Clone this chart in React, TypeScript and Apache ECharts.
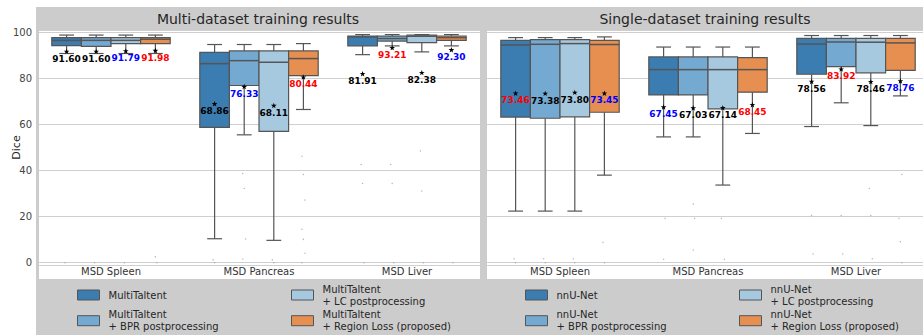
import React, { useEffect, useRef } from 'react';
import * as echarts from 'echarts';

// ---------- data ----------
const categories = ['MSD Spleen', 'MSD Pancreas', 'MSD Liver'];

const multiNames = [
  'MultiTaltent',
  'MultiTaltent\n+ BPR postprocessing',
  'MultiTaltent\n+ LC postprocessing',
  'MultiTaltent\n+ Region Loss (proposed)',
];
const singleNames = [
  'nnU-Net',
  'nnU-Net\n+ BPR postprocessing',
  'nnU-Net\n+ LC postprocessing',
  'nnU-Net\n+ Region Loss (proposed)',
];
const panelTitles = ['Multi-dataset training results', 'Single-dataset training results'];

const boxColors = ['#3b7cb1', '#74aad1', '#a6c9e0', '#e68f50'];

// [low whisker, Q1, median, Q3, high whisker] per category (Spleen, Pancreas, Liver)
const multiBaseStats = [[90.8, 94.2, 96.5, 97.7, 98.8], [10.4, 58.7, 86.4, 91.3, 94.7], [90.3, 94.1, 98.0, 98.3, 99.0]];
const multiBprStats = [[90.8, 93.9, 96.5, 97.7, 98.8], [55.5, 76.9, 87.7, 91.9, 94.7], [94.1, 96.2, 97.3, 98.3, 99.0]];
const multiLcStats = [[90.8, 95.1, 96.5, 97.7, 98.8], [9.7, 57.0, 87.0, 91.9, 94.7], [91.5, 95.5, 98.3, 98.8, 99.0]];
const multiRegionStats = [[90.8, 95.1, 97.0, 97.7, 98.8], [66.5, 81.2, 88.6, 91.9, 95.1], [94.1, 96.5, 97.7, 98.4, 99.0]];

const singleBaseStats = [[22.4, 63.2, 94.5, 96.5, 97.7], [54.6, 72.8, 83.8, 89.3, 93.6], [59.1, 81.8, 94.9, 97.4, 98.6]];
const singleBprStats = [[22.4, 62.7, 94.8, 96.8, 97.7], [54.6, 72.8, 83.8, 89.3, 93.6], [69.4, 85.1, 95.8, 97.4, 98.6]];
const singleLcStats = [[22.4, 63.3, 95.1, 96.8, 97.7], [33.7, 66.8, 83.8, 89.3, 93.6], [59.5, 82.4, 95.7, 97.4, 98.6]];
const singleRegionStats = [[38.0, 65.3, 94.7, 96.5, 98.0], [56.1, 74.0, 83.8, 89.0, 93.6], [72.4, 83.5, 95.4, 97.4, 98.6]];

// mean Dice per category
const multiBaseMeans = [91.6, 68.86, 81.91];
const multiBprMeans = [91.6, 76.33, 93.21];
const multiLcMeans = [91.79, 68.11, 82.38];
const multiRegionMeans = [91.98, 80.44, 92.3];

const singleBaseMeans = [73.46, 67.45, 78.56];
const singleBprMeans = [73.38, 67.03, 83.92];
const singleLcMeans = [73.8, 67.14, 78.46];
const singleRegionMeans = [73.45, 68.45, 78.76];

// label highlight: k = black, b = blue (second best), r = red (best)
const multiLabelKinds = [
  ['k', 'k', 'k'],
  ['k', 'b', 'r'],
  ['b', 'k', 'k'],
  ['r', 'r', 'b'],
];
const singleLabelKinds = [
  ['r', 'b', 'k'],
  ['k', 'k', 'r'],
  ['k', 'k', 'k'],
  ['b', 'r', 'b'],
];

// visible outlier points per method, per category
const multiOutliers = [
  [[51.8, 14.9, 8.4, 0], [1.2, 0], [42.6, 34.4, 0]],
  [[51.8, 14.9, 8.4, 0], [38.7, 32.2, 10.3, 1.6], [42.6, 34.4, 0]],
  [[51.8, 14.9, 8.4, 0], [1.2, 0], [48.5, 31.1, 0]],
  [[32.7, 2.6, 0], [46.2, 38.3, 27.2, 14.5, 10.1, 4.1, 0], [34.0, 8.4, 0]],
];
const singleOutliers = [
  [[1.7, 0], [45.5, 36.6, 19.2, 9.8, 1.5], [31.5, 20.5, 3.8]],
  [[1.7, 0], [36.6, 25.4, 19.2, 9.8, 5.5], [31.5, 20.5, 3.8]],
  [[1.7, 0], [19.2, 9.8, 1.5], [32.2, 20.5, 1.7]],
  [[8.8, 0], [50.6, 31.5, 14.6, 9.8], [55.6, 50.3, 38.3, 19.2, 9.1, 0]],
];

// ---------- helpers ----------
const FONT = 'DejaVu Sans';
const LINE = '#555555';
const labelColorMap: Record<string, string> = { k: '#000000', b: '#0000ff', r: '#ff0000' };

function starPoints(cx: number, cy: number, ro: number, ri: number) {
  const pts: number[][] = [];
  for (let i = 0; i < 10; i++) {
    const r = i % 2 === 0 ? ro : ri;
    const a = -Math.PI / 2 + (i * Math.PI) / 5;
    pts.push([cx + r * Math.cos(a), cy + r * Math.sin(a)]);
  }
  return pts;
}

function boxSeries(name: string, stats: number[][], means: number[], kinds: string[], m: number, g: number) {
  return {
    type: 'custom',
    name,
    xAxisIndex: g,
    yAxisIndex: g,
    silent: true,
    z: 2,
    itemStyle: { color: boxColors[m] },
    encode: { x: 0, y: [1, 2, 3, 4, 5, 6] },
    data: stats.map((s, i) => [i, ...s, means[i]]),
    renderItem: (params: any, api: any) => {
      const cat = api.value(0);
      const band = api.size([1, 0])[0];
      const w = (band * 0.8) / 4;
      const cx = api.coord([cat, 0])[0] + (m - 1.5) * w;
      const Y = (v: number) => api.coord([cat, v])[1];
      const low = Y(api.value(1));
      const q1 = Y(api.value(2));
      const med = Y(api.value(3));
      const q3 = Y(api.value(4));
      const high = Y(api.value(5));
      const meanV = api.value(6);
      const mean = Y(meanV);
      const cap = w * 0.25;
      const ls = { stroke: LINE, lineWidth: 1.2 };
      return {
        type: 'group',
        children: [
          { type: 'line', shape: { x1: cx, y1: q3, x2: cx, y2: high }, style: ls },
          { type: 'line', shape: { x1: cx, y1: q1, x2: cx, y2: low }, style: ls },
          { type: 'line', shape: { x1: cx - cap, y1: high, x2: cx + cap, y2: high }, style: ls },
          { type: 'line', shape: { x1: cx - cap, y1: low, x2: cx + cap, y2: low }, style: ls },
          {
            type: 'rect',
            shape: { x: cx - w / 2, y: q3, width: w, height: q1 - q3 },
            style: { fill: boxColors[m], stroke: LINE, lineWidth: 1.2 },
          },
          { type: 'line', shape: { x1: cx - w / 2, y1: med, x2: cx + w / 2, y2: med }, style: { stroke: LINE, lineWidth: 1.5 } },
          { type: 'polygon', shape: { points: starPoints(cx, mean, 3, 1.2) }, style: { fill: '#000' }, z2: 8 },
          {
            type: 'text',
            z2: 10,
            style: {
              text: meanV.toFixed(2),
              x: cx,
              y: mean + 7,
              align: 'center',
              verticalAlign: 'middle',
              fontSize: 9,
              fontWeight: 'bold',
              fontFamily: FONT,
              fill: labelColorMap[kinds[params.dataIndex]],
            },
          },
        ],
      };
    },
  };
}

function outlierSeries(outliers: number[][][], g: number) {
  const data: number[][] = [];
  outliers.forEach((perCat, m) =>
    perCat.forEach((vals, c) => vals.forEach((v, k) => data.push([c, v, m, k])))
  );
  return {
    type: 'custom',
    xAxisIndex: g,
    yAxisIndex: g,
    silent: true,
    z: 1,
    encode: { x: 0, y: 1 },
    data,
    renderItem: (params: any, api: any) => {
      const cat = api.value(0);
      const m = api.value(2);
      const k = api.value(3);
      const band = api.size([1, 0])[0];
      const w = (band * 0.8) / 4;
      const cx = api.coord([cat, 0])[0] + (m - 1.5) * w + ((k % 3) - 1) * 1.5;
      const cy = api.coord([cat, api.value(1)])[1];
      return { type: 'circle', shape: { cx, cy, r: 0.7 }, style: { fill: '#9a9a9a', opacity: 0.7 } };
    },
  };
}

const legendCommon = {
  orient: 'vertical',
  icon: 'rect',
  itemWidth: 22,
  itemHeight: 10,
  padding: 0,
  height: 80,
  selectedMode: false,
  itemStyle: { borderColor: LINE, borderWidth: 1 },
  textStyle: { fontSize: 10, color: '#262626', fontFamily: FONT, lineHeight: 12, padding: [0, 0, 0, 4] },
};

export default function App() {
  const ref = useRef<HTMLDivElement>(null);
  useEffect(() => {
    if (!ref.current) return;
    const chart = echarts.init(ref.current, undefined, { renderer: 'svg' });
    const gray = '#cccccc';
    const xAxisBase = {
      type: 'category',
      data: categories,
      boundaryGap: true,
      axisLine: { show: false },
      axisTick: { show: false },
      axisLabel: { color: '#333', fontSize: 10, margin: 1, fontFamily: FONT },
      splitLine: { show: false },
    };
    const yAxisBase = {
      type: 'value',
      min: -1,
      max: 101,
      splitNumber: 5,
      axisLine: { show: false },
      axisTick: { show: false },
      splitLine: { show: true, lineStyle: { color: '#cfcfcf', width: 1 } },
    };
    chart.setOption({
      animation: false,
      backgroundColor: '#ffffff',
      textStyle: { fontFamily: FONT },
      grid: [
        { left: 37, top: 30, width: 444, height: 235, outerBoundsMode: 'none', containLabel: false },
        { left: 486, top: 30, width: 444, height: 235, outerBoundsMode: 'none', containLabel: false },
      ],
      xAxis: [
        { ...xAxisBase, gridIndex: 0 },
        { ...xAxisBase, gridIndex: 1 },
      ],
      yAxis: [
        {
          ...yAxisBase,
          gridIndex: 0,
          name: 'Dice',
          nameLocation: 'middle',
          nameGap: 15,
          nameMoveOverlap: false,
          nameTextStyle: { fontSize: 11, color: '#262626', fontFamily: FONT },
          axisLabel: {
            color: '#444',
            fontSize: 10,
            margin: 5,
            fontFamily: FONT,
            formatter: (v: number) => (v % 20 === 0 ? String(v) : ''),
          },
        },
        { ...yAxisBase, gridIndex: 1, axisLabel: { show: false } },
      ],
      legend: [
        { ...legendCommon, data: [multiNames[0], multiNames[1]], left: 77, top: 289, itemGap: 7.7 },
        { ...legendCommon, data: [multiNames[2], multiNames[3]], left: 291, top: 283, itemGap: 1.7 },
        { ...legendCommon, data: [singleNames[0], singleNames[1]], left: 525, top: 289, itemGap: 7.7 },
        { ...legendCommon, data: [singleNames[2], singleNames[3]], left: 739, top: 283, itemGap: 1.7 },
      ],
      graphic: [
        { type: 'rect', silent: true, z: 50, shape: { x: 36, y: 7, width: 887, height: 23 }, style: { fill: gray } },
        { type: 'rect', silent: true, z: 50, shape: { x: 36, y: 7, width: 3, height: 272 }, style: { fill: gray } },
        { type: 'rect', silent: true, z: 50, shape: { x: 480, y: 7, width: 7, height: 272 }, style: { fill: gray } },
        { type: 'rect', silent: true, z: -10, shape: { x: 36, y: 279, width: 887, height: 56 }, style: { fill: gray } },
        {
          type: 'text', silent: true, z: 60, x: 258, y: 18.5,
          style: { text: panelTitles[0], align: 'center', verticalAlign: 'middle', fontSize: 14, fill: '#262626', fontFamily: FONT },
        },
        {
          type: 'text', silent: true, z: 60, x: 705, y: 18.5,
          style: { text: panelTitles[1], align: 'center', verticalAlign: 'middle', fontSize: 14, fill: '#262626', fontFamily: FONT },
        },
      ],
      series: [
        outlierSeries(multiOutliers, 0),
        outlierSeries(singleOutliers, 1),
        boxSeries(multiNames[0], multiBaseStats, multiBaseMeans, multiLabelKinds[0], 0, 0),
        boxSeries(multiNames[1], multiBprStats, multiBprMeans, multiLabelKinds[1], 1, 0),
        boxSeries(multiNames[2], multiLcStats, multiLcMeans, multiLabelKinds[2], 2, 0),
        boxSeries(multiNames[3], multiRegionStats, multiRegionMeans, multiLabelKinds[3], 3, 0),
        boxSeries(singleNames[0], singleBaseStats, singleBaseMeans, singleLabelKinds[0], 0, 1),
        boxSeries(singleNames[1], singleBprStats, singleBprMeans, singleLabelKinds[1], 1, 1),
        boxSeries(singleNames[2], singleLcStats, singleLcMeans, singleLabelKinds[2], 2, 1),
        boxSeries(singleNames[3], singleRegionStats, singleRegionMeans, singleLabelKinds[3], 3, 1),
      ],
    });
    return () => chart.dispose();
  }, []);
  return <div ref={ref} style={{ position: 'fixed', left: 0, top: 0, width: 923, height: 335 }} />;
}
